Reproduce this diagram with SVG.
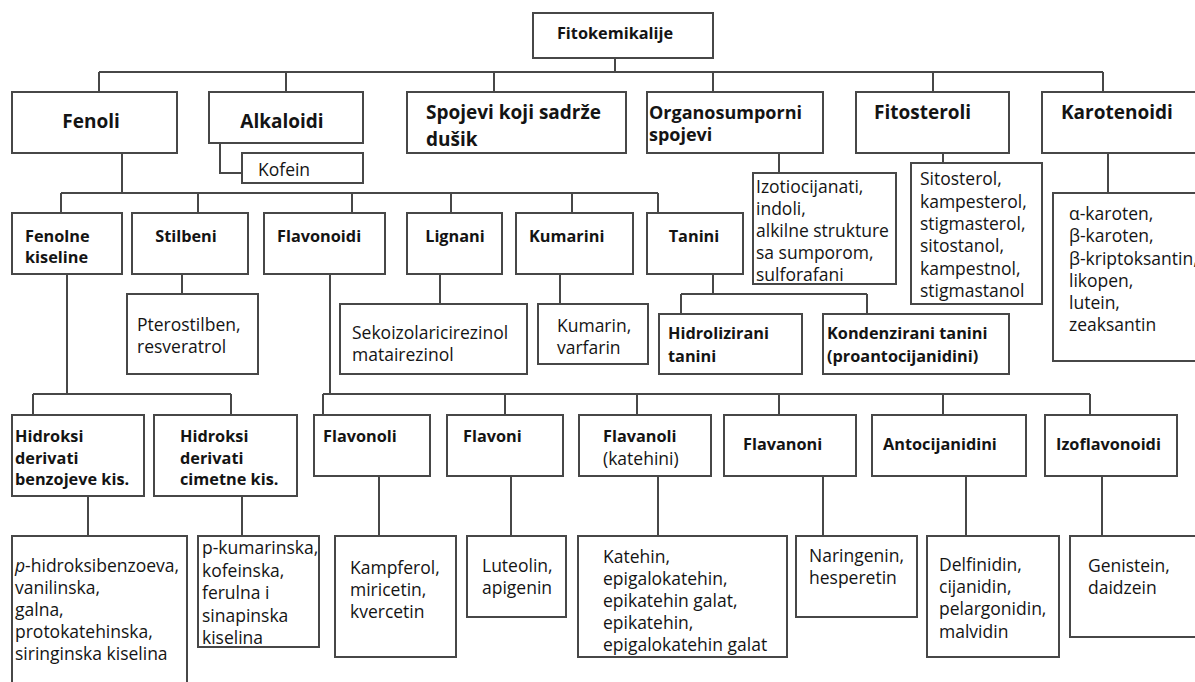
<svg xmlns="http://www.w3.org/2000/svg" width="1195" height="682" viewBox="0 0 1195 682">
<style>
.b{fill:#fff;stroke:#474747;stroke-width:2}
.c{fill:none;stroke:#474747;stroke-width:2}
text{font-family:"Open Sans","Noto Sans",sans-serif;fill:#141414}
.t{font-size:17.5px}
.h0{font-size:16.3px;font-weight:bold}
.h1{font-size:19px;font-weight:bold}
.h1s{font-size:18px;font-weight:bold}
.h2{font-size:16.3px;font-weight:bold}
.m{text-anchor:middle}
</style>
<rect width="1195" height="682" fill="#fff"/>
<g id="connectors">
<path class="c" d="M615 58V72M99 72H1103M99 72V92M286 72V92M494 72V92M713 72V92M933 72V92M1103 72V92"/>
<path class="c" d="M220 143V173H242"/>
<path class="c" d="M779 153V173M943 153V163M1108 153V193"/>
<path class="c" d="M122 153V193M61 193H658M61 193V213M198 193V213M352 193V213M451 193V213M572 193V213M658 193V213"/>
<path class="c" d="M182 274V294M440 274V304M560 274V304"/>
<path class="c" d="M713 274V294M681 294H867M681 294V314M867 294V314"/>
<path class="c" d="M67 274V394M33 394H231M33 394V415M231 394V415M88 496V536M242 496V536"/>
<path class="c" d="M330 274V394M323 394H1090M323 394V415M505 394V415M637 394V415M779 394V415M943 394V415M1090 394V415"/>
<path class="c" d="M379 476V536M511 476V536M658 476V536M823 476V536M966 476V536M1102 476V536"/>
</g>
<g id="fitokemikalije"><rect class="b" x="533" y="13" width="180" height="45"/><text class="h0 m" x="615" y="39">Fitokemikalije</text></g>
<g id="fenoli"><rect class="b" x="12" y="92" width="165" height="61"/><text class="h1 m" x="91" y="128">Fenoli</text></g>
<g id="alkaloidi"><rect class="b" x="209" y="92" width="154" height="51"/><text class="h1 m" x="282" y="128">Alkaloidi</text></g>
<g id="kofein"><rect class="b" x="242" y="153" width="121" height="30"/><text class="t" x="258" y="176">Kofein</text></g>
<g id="spojevi"><rect class="b" x="407" y="92" width="219" height="61"/><text class="h1" x="426" y="119">Spojevi koji sadrže<tspan x="426" y="146">dušik</tspan></text></g>
<g id="organosumporni"><rect class="b" x="647" y="92" width="176" height="61"/><text class="h1s" x="649" y="119">Organosumporni<tspan x="649" y="141">spojevi</tspan></text></g>
<g id="fitosteroli"><rect class="b" x="856" y="92" width="153" height="61"/><text class="h1" x="874" y="119">Fitosteroli</text></g>
<g id="karotenoidi"><rect class="b" x="1042" y="92" width="170" height="61"/><text class="h1" x="1061" y="119">Karotenoidi</text></g>
<g id="izotiocijanati"><rect class="b" x="753" y="173" width="143" height="111"/><text class="t" x="756" y="193">Izotiocijanati,<tspan x="756" y="215">indoli,</tspan><tspan x="756" y="237">alkilne strukture</tspan><tspan x="756" y="259">sa sumporom,</tspan><tspan x="756" y="281">sulforafani</tspan></text></g>
<g id="sitosterol"><rect class="b" x="911" y="163" width="131" height="141"/><text class="t" x="920" y="185">Sitosterol,<tspan x="920" y="207.5">kampesterol,</tspan><tspan x="920" y="230">stigmasterol,</tspan><tspan x="920" y="252">sitostanol,</tspan><tspan x="920" y="274.5">kampestnol,</tspan><tspan x="920" y="297">stigmastanol</tspan></text></g>
<g id="karoteni"><rect class="b" x="1053" y="193" width="160" height="168"/><text class="t" x="1069" y="220">α-karoten,<tspan x="1069" y="242">β-karoten,</tspan><tspan x="1069" y="264.5">β-kriptoksantin,</tspan><tspan x="1069" y="287">likopen,</tspan><tspan x="1069" y="309">lutein,</tspan><tspan x="1069" y="331">zeaksantin</tspan></text></g>
<g id="fenolne-kiseline"><rect class="b" x="12" y="213" width="110" height="61"/><text class="h2" x="25" y="242">Fenolne<tspan x="25" y="263">kiseline</tspan></text></g>
<g id="stilbeni"><rect class="b" x="132" y="213" width="116" height="61"/><text class="h2 m" x="186" y="242">Stilbeni</text></g>
<g id="flavonoidi"><rect class="b" x="264" y="213" width="121" height="61"/><text class="h2" x="277" y="242">Flavonoidi</text></g>
<g id="lignani"><rect class="b" x="407" y="213" width="95" height="61"/><text class="h2 m" x="455" y="242">Lignani</text></g>
<g id="kumarini"><rect class="b" x="516" y="213" width="117" height="61"/><text class="h2" x="529" y="242">Kumarini</text></g>
<g id="tanini"><rect class="b" x="647" y="213" width="96" height="61"/><text class="h2 m" x="694" y="242">Tanini</text></g>
<g id="pterostilben"><rect class="b" x="127" y="294" width="131" height="80"/><text class="t" x="137" y="331">Pterostilben,<tspan x="137" y="353">resveratrol</tspan></text></g>
<g id="sekoizolaricirezinol"><rect class="b" x="340" y="304" width="187" height="70"/><text class="t" x="352" y="339">Sekoizolaricirezinol<tspan x="352" y="361">matairezinol</tspan></text></g>
<g id="kumarin"><rect class="b" x="538" y="304" width="110" height="60"/><text class="t" x="557" y="332">Kumarin,<tspan x="557" y="354">varfarin</tspan></text></g>
<g id="hidrolizirani"><rect class="b" x="659" y="314" width="143" height="60"/><text class="h2" x="668" y="339">Hidrolizirani<tspan x="668" y="362">tanini</tspan></text></g>
<g id="kondenzirani"><rect class="b" x="823" y="314" width="186" height="60"/><text class="h2" x="827" y="339">Kondenzirani tanini<tspan x="827" y="362">(proantocijanidini)</tspan></text></g>
<g id="hidroksi-benzojeve"><rect class="b" x="12" y="415" width="132" height="81"/><text class="h2" x="15" y="442">Hidroksi<tspan x="15" y="463.5">derivati</tspan><tspan x="15" y="485">benzojeve kis.</tspan></text></g>
<g id="hidroksi-cimetne"><rect class="b" x="154" y="415" width="143" height="81"/><text class="h2" x="180" y="442">Hidroksi<tspan x="180" y="463.5">derivati</tspan><tspan x="180" y="485">cimetne kis.</tspan></text></g>
<g id="flavonoli"><rect class="b" x="314" y="415" width="116" height="61"/><text class="h2" x="323" y="442">Flavonoli</text></g>
<g id="flavoni"><rect class="b" x="447" y="415" width="116" height="61"/><text class="h2" x="463" y="442">Flavoni</text></g>
<g id="flavanoli"><rect class="b" x="579" y="415" width="132" height="61"/><text class="h2" x="603" y="442">Flavanoli</text><text class="t" x="603" y="465">(katehini)</text></g>
<g id="flavanoni"><rect class="b" x="724" y="415" width="132" height="61"/><text class="h2" x="743" y="450">Flavanoni</text></g>
<g id="antocijanidini"><rect class="b" x="872" y="415" width="154" height="61"/><text class="h2" x="883" y="450">Antocijanidini</text></g>
<g id="izoflavonoidi"><rect class="b" x="1045" y="415" width="132" height="61"/><text class="h2" x="1056" y="450">Izoflavonoidi</text></g>
<g id="p-hidroksibenzoeva"><rect class="b" x="12" y="536" width="175" height="160"/><text class="t" x="15" y="572"><tspan font-style="italic">p</tspan>-hidroksibenzoeva,<tspan x="15" y="594">vanilinska,</tspan><tspan x="15" y="616">galna,</tspan><tspan x="15" y="638">protokatehinska,</tspan><tspan x="15" y="660">siringinska kiselina</tspan></text></g>
<g id="p-kumarinska"><rect class="b" x="198" y="536" width="121" height="111"/><text class="t" x="202" y="554">p-kumarinska,<tspan x="202" y="576.5">kofeinska,</tspan><tspan x="202" y="599">ferulna i</tspan><tspan x="202" y="621.5">sinapinska</tspan><tspan x="202" y="644">kiselina</tspan></text></g>
<g id="kampferol"><rect class="b" x="335" y="536" width="121" height="121"/><text class="t" x="350" y="574">Kampferol,<tspan x="350" y="596">miricetin,</tspan><tspan x="350" y="618">kvercetin</tspan></text></g>
<g id="luteolin"><rect class="b" x="467" y="536" width="99" height="81"/><text class="t" x="482" y="572">Luteolin,<tspan x="482" y="594">apigenin</tspan></text></g>
<g id="katehin"><rect class="b" x="578" y="536" width="209" height="121"/><text class="t" x="603" y="563">Katehin,<tspan x="603" y="585">epigalokatehin,</tspan><tspan x="603" y="607">epikatehin galat,</tspan><tspan x="603" y="629">epikatehin,</tspan><tspan x="603" y="651">epigalokatehin galat</tspan></text></g>
<g id="naringenin"><rect class="b" x="796" y="536" width="121" height="81"/><text class="t" x="809" y="562">Naringenin,<tspan x="809" y="584">hesperetin</tspan></text></g>
<g id="delfinidin"><rect class="b" x="927" y="536" width="132" height="121"/><text class="t" x="939" y="571">Delfinidin,<tspan x="939" y="593">cijanidin,</tspan><tspan x="939" y="615">pelargonidin,</tspan><tspan x="939" y="638">malvidin</tspan></text></g>
<g id="genistein"><rect class="b" x="1070" y="536" width="140" height="101"/><text class="t" x="1088" y="572">Genistein,<tspan x="1088" y="594">daidzein</tspan></text></g>
</svg>
